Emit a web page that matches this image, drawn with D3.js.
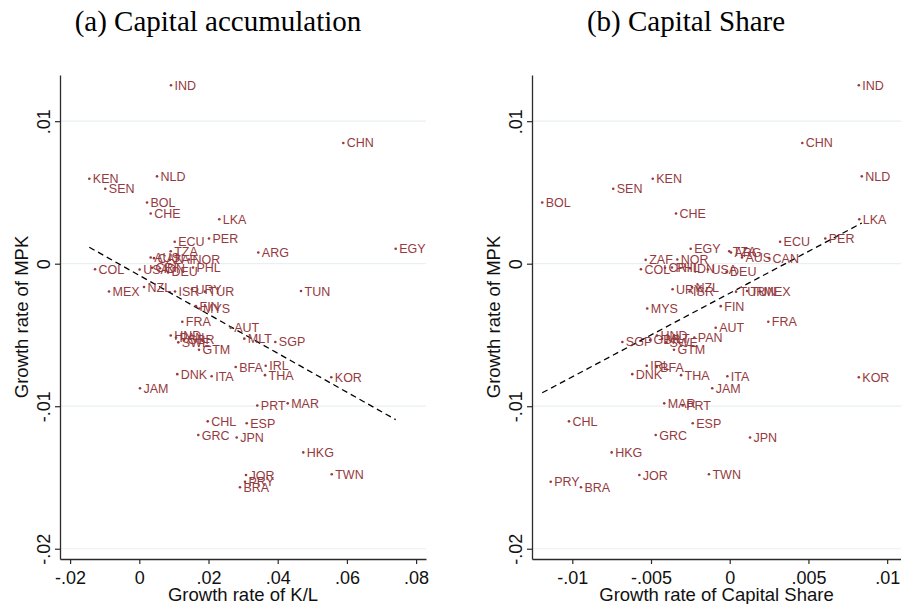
<!DOCTYPE html>
<html>
<head>
<meta charset="utf-8">
<script src="https://cdn.jsdelivr.net/npm/d3@7"></script>
<style>
  body { margin: 0; background: #fff; }
  svg { display: block; }
</style>
</head>
<body>
<svg id="chart" width="901" height="604"></svg>
<script>
// Country codes and their growth rates (average annual)
const countries = ["IND","CHN","KEN","NLD","SEN","BOL","CHE","LKA","ECU","PER","EGY","TZA","ARG",
  "AUS","CAN","ZAF","NOR","COL","CRI","IDN","PHL","USA","DEU","MEX","NZL","ISR","URY","TUR","TUN",
  "FIN","MYS","FRA","AUT","HND","PAN","SWE","GBR","MLT","SGP","GTM","IRL","BFA","DNK","ITA","THA",
  "KOR","JAM","PRT","MAR","CHL","ESP","GRC","JPN","HKG","TWN","JOR","PRY","BRA"];

// Growth rate of the marginal product of capital (vertical axis, both panels)
const mpkGrowth = [0.01252,0.00847,0.00596,0.00613,0.00526,0.00429,0.00352,0.00312,0.00154,0.00177,0.00105,0.00087,0.00079,
  0.00043,0.00039,0.00027,0.00029,-0.00039,-0.00028,-0.00032,-0.00027,-0.00041,-0.00058,-0.00195,-0.00164,-0.00195,-0.00179,-0.00196,-0.00192,
  -0.00298,-0.00314,-0.00407,-0.00449,-0.00504,-0.00518,-0.00552,-0.00535,-0.00526,-0.00549,-0.00604,-0.00716,-0.00725,-0.00775,-0.00790,-0.00782,
  -0.00797,-0.00874,-0.00995,-0.00980,-0.01106,-0.01120,-0.01202,-0.01220,-0.01324,-0.01477,-0.01483,-0.01530,-0.01569];

// Growth rate of capital per worker (panel a)
const klGrowth = [0.00916,0.05896,-0.01445,0.00512,-0.00983,0.00223,0.00329,0.02312,0.01023,0.02014,0.07410,0.00908,0.03439,
  0.00329,0.00425,0.00887,0.01436,-0.01280,0.00367,0.00598,0.01552,0.00010,0.00829,-0.00876,0.00136,0.01032,0.01523,0.01899,0.04673,
  0.01639,0.01740,0.01243,0.02642,0.00908,0.01061,0.01127,0.01292,0.03035,0.03931,0.01725,0.03653,0.02786,0.01098,0.02092,0.03633,
  0.05549,0.00020,0.03410,0.04289,0.01977,0.03104,0.01705,0.02815,0.04740,0.05561,0.03084,0.03055,0.02910];

// Growth rate of the capital share (panel b)
const shareGrowth = [0.00820,0.00461,-0.00489,0.00839,-0.00740,-0.01191,-0.00341,0.00823,0.00320,0.00607,-0.00248,-0.00003,0.00008,
  0.00078,0.00250,-0.00534,-0.00333,-0.00564,-0.00411,-0.00252,-0.00367,-0.00138,-0.00020,0.00193,-0.00240,-0.00255,-0.00363,0.00040,0.00110,
  -0.00057,-0.00524,0.00245,-0.00089,-0.00462,-0.00225,-0.00405,-0.00506,-0.00430,-0.00682,-0.00354,-0.00527,-0.00464,-0.00619,-0.00015,-0.00309,
  0.00820,-0.00111,-0.00299,-0.00416,-0.01021,-0.00235,-0.00470,0.00129,-0.00750,-0.00132,-0.00574,-0.01137,-0.00945];

// Fitted lines: [intercept, slope]
const fitA = [-0.00082, -0.1366];
const fitB = [-0.00207, 0.5867];

// Tick values and their printed labels
const yTicks = [0.01, 0, -0.01, -0.02];
const yTickLabels = [".01", "0", "-.01", "-.02"];
const xTicksA = [-0.02, 0, 0.02, 0.04, 0.06, 0.08];
const xTickLabelsA = ["-.02", "0", ".02", ".04", ".06", ".08"];
const xTicksB = [-0.01, -0.005, 0, 0.005, 0.01];
const xTickLabelsB = ["-.01", "-.005", "0", ".005", ".01"];

const titles = ["(a) Capital accumulation", "(b) Capital Share"];
const xTitles = ["Growth rate of K/L", "Growth rate of Capital Share"];
const yTitle = "Growth rate of MPK";

const markColor = "#953a40";
const axisColor = "#2b2b2b";
const gridColor = "#e9f0f2";
const sansFont = "'Liberation Sans', Arial, Helvetica, sans-serif";
const serifFont = "'Liberation Serif', 'Times New Roman', Times, serif";

const svg = d3.select("#chart");

const plotTop = 75, plotBottom = 559;
const y = d3.scaleLinear().domain([-0.02072, 0.01324]).range([plotBottom, plotTop]);

const panels = [
  { xs: klGrowth, fit: fitA, ticks: xTicksA, tickLabels: xTickLabelsA,
    domain: [-0.02292, 0.08286], range: [60, 426], title: titles[0], xTitle: xTitles[0],
    titleX: 218, yTitleX: 22 },
  { xs: shareGrowth, fit: fitB, ticks: xTicksB, tickLabels: xTickLabelsB,
    domain: [-0.01256, 0.01088], range: [532, 901], title: titles[1], xTitle: xTitles[1],
    titleX: 686, yTitleX: 494 }
];

panels.forEach(p => {
  const x = d3.scaleLinear().domain(p.domain).range(p.range);
  const g = svg.append("g");
  const [x0, x1] = p.range;

  // horizontal gridlines
  g.append("g").selectAll("line").data(yTicks).join("line")
    .attr("x1", x0).attr("x2", x1)
    .attr("y1", d => y(d)).attr("y2", d => y(d))
    .attr("stroke", gridColor).attr("stroke-width", 1.2);

  // y axis
  const yAxis = g.append("g").attr("transform", `translate(${x0},0)`)
    .call(d3.axisLeft(y).tickValues(yTicks).tickFormat((d, i) => yTickLabels[i])
      .tickSize(5).tickSizeOuter(0));
  yAxis.select(".domain").attr("stroke", axisColor).attr("stroke-width", 1.3);
  yAxis.selectAll(".tick line").attr("stroke", axisColor).attr("stroke-width", 1.2);
  yAxis.selectAll(".tick text")
    .attr("transform", "rotate(-90)")
    .attr("x", 0).attr("y", -10).attr("dy", 0)
    .attr("text-anchor", "middle")
    .attr("fill", "#111")
    .style("font-family", sansFont).style("font-size", "18px");

  // x axis
  const xAxis = g.append("g").attr("transform", `translate(0,${plotBottom})`)
    .call(d3.axisBottom(x).tickValues(p.ticks).tickFormat((d, i) => p.tickLabels[i])
      .tickSize(5).tickSizeOuter(0));
  xAxis.select(".domain").attr("stroke", axisColor).attr("stroke-width", 1.3);
  xAxis.selectAll(".tick line").attr("stroke", axisColor).attr("stroke-width", 1.2);
  xAxis.selectAll(".tick text")
    .attr("y", 8).attr("dy", "0.92em")
    .attr("fill", "#111")
    .style("font-family", sansFont).style("font-size", "18px");

  // fitted line over the range of the data
  const ext = d3.extent(p.xs);
  const line = d3.line().x(d => x(d)).y(d => y(p.fit[0] + p.fit[1] * d));
  g.append("path").datum(ext)
    .attr("d", line)
    .attr("fill", "none").attr("stroke", "#000")
    .attr("stroke-width", 1.3).attr("stroke-dasharray", "6,4");

  // points with country labels
  const pts = g.append("g").selectAll("g").data(countries).join("g")
    .attr("transform", (d, i) => `translate(${x(p.xs[i])},${y(mpkGrowth[i])})`);
  pts.append("circle").attr("r", 1.3).attr("fill", markColor);
  pts.append("text").text(d => d)
    .attr("x", 3.5).attr("dy", "0.36em")
    .attr("fill", markColor)
    .style("font-family", sansFont).style("font-size", "12.5px");

  // axis titles
  g.append("text").text(p.xTitle)
    .attr("x", (x0 + x1) / 2).attr("y", 601)
    .attr("text-anchor", "middle").attr("fill", "#111")
    .style("font-family", sansFont).style("font-size", "18.5px");
  g.append("text").text(yTitle)
    .attr("transform", `translate(${p.yTitleX},${(plotTop + plotBottom) / 2}) rotate(-90)`)
    .attr("text-anchor", "middle").attr("dy", "0.35em").attr("fill", "#111")
    .style("font-family", sansFont).style("font-size", "18.5px");

  // panel title
  g.append("text").text(p.title)
    .attr("x", p.titleX).attr("y", 31)
    .attr("text-anchor", "middle").attr("fill", "#000")
    .style("font-family", serifFont).style("font-size", "29px");
});
</script>
</body>
</html>
